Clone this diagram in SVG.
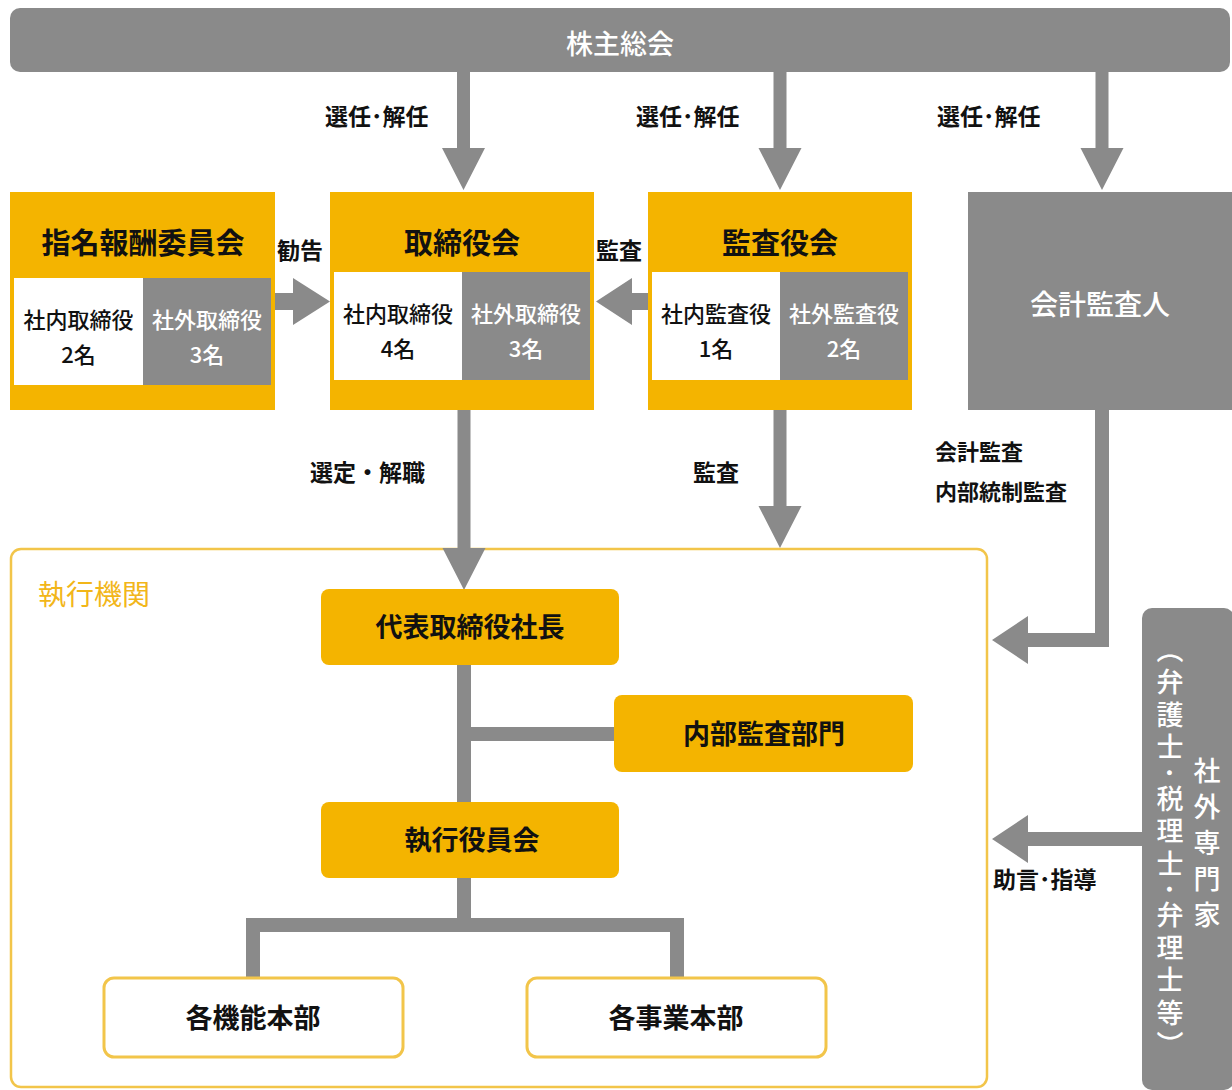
<svg xmlns="http://www.w3.org/2000/svg" width="1232" height="1090" viewBox="0 0 1232 1090">
<style>
text{font-family:"Noto Sans CJK JP","Noto Sans",sans-serif;}
.g{fill:#8a8a8a;}
.y{fill:#F4B400;}
.w{fill:#ffffff;}
.title{font-size:29px;font-weight:700;fill:#111;text-anchor:middle;}
.cell{font-size:22px;font-weight:500;text-anchor:middle;}
.cb{fill:#111;}
.cw{fill:#ffffff;}
.lbl{font-size:23px;font-weight:700;fill:#111;}
.box{font-size:27px;font-weight:700;fill:#111;text-anchor:middle;}
.line{fill:none;stroke:#8a8a8a;stroke-width:14;}
.vt{writing-mode:vertical-rl;font-size:27px;font-weight:500;fill:#fff;}
</style>

<g id="execution">
  <rect x="11" y="549" width="976" height="538" rx="10" fill="#fff" stroke="#F2C54A" stroke-width="2.5"/>
  <text x="38" y="605" style="font-size:28px;font-weight:400;fill:#F2B619">執行機関</text>
</g>

<g id="connectors">
  <path class="g" d="M457,72 H470 V148 H485 L463.5,190 L442,148 H457 Z"/>
  <path class="g" d="M773.5,72 H786.5 V148 H801.5 L780,190 L758.5,148 H773.5 Z"/>
  <path class="g" d="M1095.5,72 H1108.5 V148 H1123.5 L1102,190 L1080.5,148 H1095.5 Z"/>
  <path class="g" d="M275,293 H293 V278 L330,301.5 L293,325 V310 H275 Z"/>
  <path class="g" d="M650,293 H632 V278 L596,301.5 L632,325 V310 H650 Z"/>
  <path class="g" d="M457.5,410 H470.5 V548 H485.5 L464,590 L442.5,548 H457.5 Z"/>
  <path class="g" d="M773.5,410 H786.5 V506 H801.5 L780,548 L758.5,506 H773.5 Z"/>
  <path class="g" d="M1095,410 H1109 V647 H1028 V664 L992,640 L1028,616 V633 H1095 Z"/>
  <path class="g" d="M1142,832 H1028 V815 L992,839 L1028,863 V846 H1142 Z"/>
  <path class="line" d="M464,665 V802"/>
  <path class="line" d="M464,734 H616"/>
  <path class="line" d="M464,877 V925"/>
  <path class="line" d="M253,978 V925 H677 V978"/>
  <text class="lbl" x="325" y="125">選任･解任</text>
  <text class="lbl" x="636" y="125">選任･解任</text>
  <text class="lbl" x="937" y="125">選任･解任</text>
  <text class="lbl" x="277" y="259">勧告</text>
  <text class="lbl" x="596" y="259">監査</text>
  <text class="lbl" x="310" y="481">選定・解職</text>
  <text class="lbl" x="693" y="481">監査</text>
  <text class="lbl" x="935" y="460" style="font-size:22px">会計監査</text>
  <text class="lbl" x="935" y="500" style="font-size:22px">内部統制監査</text>
  <text class="lbl" x="993" y="888">助言･指導</text>
</g>

<g id="shareholders">
  <rect class="g" x="10" y="8" width="1220" height="64" rx="10"/>
  <text x="620" y="54" style="font-size:27px;font-weight:500;fill:#fff;text-anchor:middle">株主総会</text>
</g>

<g id="nomination">
  <rect class="y" x="10" y="192" width="265" height="218"/>
  <text class="title" x="143" y="254">指名報酬委員会</text>
  <rect class="w" x="14" y="278" width="129" height="107"/>
  <rect class="g" x="143" y="278" width="128" height="107"/>
  <text class="cell cb" x="78.5" y="328">社内取締役</text>
  <text class="cell cb" x="78.5" y="363">2名</text>
  <text class="cell cw" x="207" y="328">社外取締役</text>
  <text class="cell cw" x="207" y="363">3名</text>
</g>

<g id="board">
  <rect class="y" x="330" y="192" width="264" height="218"/>
  <text class="title" x="462" y="254">取締役会</text>
  <rect class="w" x="334" y="272" width="128" height="108"/>
  <rect class="g" x="462" y="272" width="128" height="108"/>
  <text class="cell cb" x="398" y="322">社内取締役</text>
  <text class="cell cb" x="398" y="357">4名</text>
  <text class="cell cw" x="526" y="322">社外取締役</text>
  <text class="cell cw" x="526" y="357">3名</text>
</g>

<g id="auditors">
  <rect class="y" x="648" y="192" width="264" height="218"/>
  <text class="title" x="780" y="254">監査役会</text>
  <rect class="w" x="652" y="272" width="128" height="108"/>
  <rect class="g" x="780" y="272" width="128" height="108"/>
  <text class="cell cb" x="716" y="322">社内監査役</text>
  <text class="cell cb" x="716" y="357">1名</text>
  <text class="cell cw" x="844" y="322">社外監査役</text>
  <text class="cell cw" x="844" y="357">2名</text>
</g>

<g id="accounting-auditor">
  <rect class="g" x="968" y="192" width="264" height="218"/>
  <text x="1100" y="315" style="font-size:28px;font-weight:500;fill:#fff;text-anchor:middle">会計監査人</text>
</g>

<g id="president">
  <rect class="y" x="321" y="589" width="298" height="76" rx="8"/>
  <text class="box" x="470" y="637">代表取締役社長</text>
</g>

<g id="internal-audit">
  <rect class="y" x="614" y="695" width="299" height="77" rx="8"/>
  <text class="box" x="764" y="744">内部監査部門</text>
</g>

<g id="executive-committee">
  <rect class="y" x="321" y="802" width="298" height="76" rx="8"/>
  <text class="box" x="472" y="850">執行役員会</text>
</g>

<g id="function-hq">
  <rect x="104" y="978" width="299" height="79" rx="10" fill="#fff" stroke="#F2C54A" stroke-width="3"/>
  <text class="box" x="253" y="1028">各機能本部</text>
</g>

<g id="business-hq">
  <rect x="527" y="978" width="299" height="79" rx="10" fill="#fff" stroke="#F2C54A" stroke-width="3"/>
  <text class="box" x="676" y="1028">各事業本部</text>
</g>

<g id="external-experts">
  <rect class="g" x="1142" y="608" width="92" height="482" rx="10"/>
  <text class="vt" x="1207" y="757" style="letter-spacing:9px">社外専門家</text>
  <text class="vt" x="1170" y="636" style="letter-spacing:5.5px">（弁護士･税理士･弁理士等）</text>
</g>
</svg>
